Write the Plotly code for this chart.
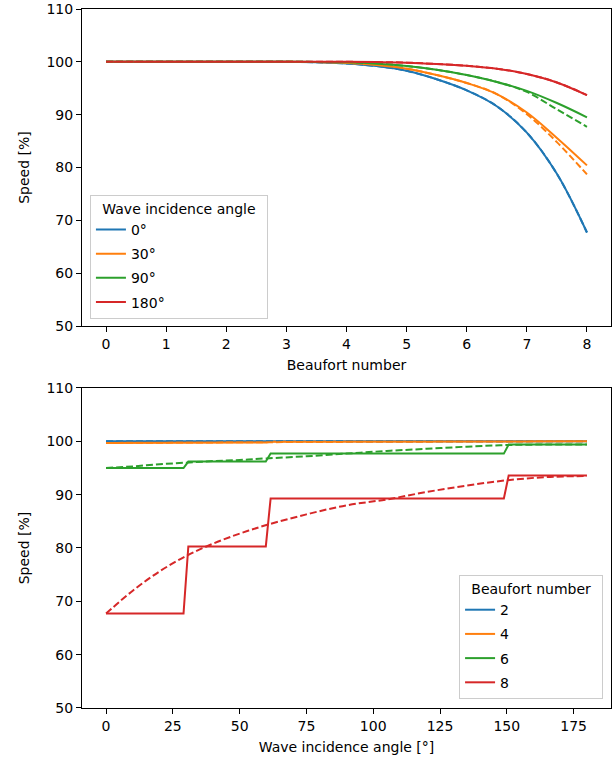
import plotly.graph_objects as go
from plotly.subplots import make_subplots

# ---- Top panel data: speed vs Beaufort number ----
beaufort = [0, 0.5, 1, 1.5, 2, 2.5, 3, 3.5, 4, 4.5, 5, 5.5, 6, 6.5, 7, 7.5, 8]
speed_0 = [100, 100, 100, 100, 100, 100, 100, 99.9, 99.7, 99.2, 98.3, 96.7, 94.6, 91.6, 86.6, 78.8, 67.7]
speed_30 = [100, 100, 100, 100, 100, 100, 100, 99.95, 99.8, 99.4, 98.7, 97.5, 96.0, 93.9, 90.4, 85.6, 80.4]
speed_90 = [100, 100, 100, 100, 100, 100, 100, 99.98, 99.9, 99.65, 99.2, 98.5, 97.5, 96.2, 94.5, 92.2, 89.5]
speed_180 = [100, 100, 100, 100, 100, 100, 100, 100, 100, 99.95, 99.85, 99.6, 99.25, 98.7, 97.7, 96.1, 93.7]
speed_0_d = speed_0
speed_30_d = [100, 100, 100, 100, 100, 100, 100, 99.95, 99.8, 99.4, 98.7, 97.5, 96.0, 93.9, 90.1, 84.8, 78.7]
speed_90_d = [100, 100, 100, 100, 100, 100, 100, 99.98, 99.9, 99.65, 99.2, 98.5, 97.5, 96.2, 94.3, 91.0, 87.7]
speed_180_d = speed_180
angle_labels = ["0°", "30°", "90°", "180°"]

# ---- Bottom panel data: speed vs wave incidence angle ----
angles_step = [0, 29, 30.8, 59.8, 61.6, 148.9, 150.7, 180]
bf2 = [100.0, 100.0, 100.0, 100.0, 100.0, 100.0, 100.0, 100.0]
bf4 = [99.7, 99.7, 99.8, 99.8, 99.9, 99.9, 100.0, 100.0]
bf6 = [95.0, 95.0, 96.2, 96.2, 97.7, 97.7, 99.4, 99.4]
bf8 = [67.7, 67.7, 80.3, 80.3, 89.3, 89.3, 93.6, 93.6]

angles_smooth = [0, 10, 20, 30, 40, 50, 60, 75, 90, 105, 120, 135, 150, 165, 180]
bf2_d = [100.0] * 15
bf4_d = [99.7, 99.72, 99.75, 99.77, 99.8, 99.82, 99.84, 99.87, 99.9, 99.92, 99.94, 99.96, 99.98, 100.0, 100.0]
bf6_d = [95.0, 95.3, 95.7, 96.0, 96.3, 96.5, 96.8, 97.2, 97.7, 98.2, 98.6, 99.0, 99.3, 99.4, 99.4]
bf8_d = [67.7, 72.0, 75.6, 78.5, 80.8, 82.7, 84.3, 86.3, 88.0, 89.1, 90.5, 91.7, 92.7, 93.3, 93.5]
bf_labels = ["2", "4", "6", "8"]

colors = ["#1f77b4", "#ff7f0e", "#2ca02c", "#d62728"]
FONT = "DejaVu Sans"
FS = 14
DASH = "7px,3px"

fig = make_subplots(rows=2, cols=1, vertical_spacing=0.09, shared_xaxes=False)

top_solid = [speed_0, speed_30, speed_90, speed_180]
top_dash = [speed_0_d, speed_30_d, speed_90_d, speed_180_d]
for i in range(4):
    fig.add_trace(go.Scatter(x=beaufort, y=top_solid[i], mode="lines", name=angle_labels[i],
                             line=dict(color=colors[i], width=2, shape="spline"),
                             legend="legend", legendgroup="t" + str(i)), row=1, col=1)
for i in range(4):
    fig.add_trace(go.Scatter(x=beaufort, y=top_dash[i], mode="lines", showlegend=False,
                             line=dict(color=colors[i], width=2, dash=DASH, shape="spline"),
                             legendgroup="t" + str(i)), row=1, col=1)

bot_solid = [bf2, bf4, bf6, bf8]
bot_dash = [bf2_d, bf4_d, bf6_d, bf8_d]
for i in range(4):
    fig.add_trace(go.Scatter(x=angles_step, y=bot_solid[i], mode="lines", name=bf_labels[i],
                             line=dict(color=colors[i], width=2),
                             legend="legend2", legendgroup="b" + str(i)), row=2, col=1)
for i in range(4):
    fig.add_trace(go.Scatter(x=angles_smooth, y=bot_dash[i], mode="lines", showlegend=False,
                             line=dict(color=colors[i], width=2, dash=DASH, shape="spline"),
                             legend="legend2", legendgroup="b" + str(i)), row=2, col=1)

axis_common = dict(showline=True, mirror=True, linecolor="black", linewidth=1,
                   ticks="outside", ticklen=5, tickwidth=1, tickcolor="black",
                   showgrid=False, zeroline=False, automargin=False,
                   tickfont=dict(family=FONT, size=FS, color="black"))

fig.update_xaxes(range=[-0.4, 8.4], tickvals=list(range(0, 9)),
                 title=dict(text="Beaufort number", font=dict(family=FONT, size=FS, color="black"), standoff=9),
                 row=1, col=1, **axis_common)
fig.update_xaxes(range=[-9, 189], tickvals=[0, 25, 50, 75, 100, 125, 150, 175],
                 title=dict(text="Wave incidence angle [°]", font=dict(family=FONT, size=FS, color="black"), standoff=9),
                 row=2, col=1, **axis_common)
for r in (1, 2):
    fig.update_yaxes(range=[50, 110], tickvals=[50, 60, 70, 80, 90, 100, 110],
                     title=dict(text="Speed [%]", font=dict(family=FONT, size=FS, color="black"), standoff=13),
                     row=r, col=1, **axis_common)

fig.update_layout(
    width=616, height=761,
    margin=dict(l=82, r=5, t=9, b=53),
    paper_bgcolor="white", plot_bgcolor="white",
    font=dict(family=FONT, size=FS, color="black"),
    legend=dict(x=0.015, y=0.557, xanchor="left", yanchor="bottom",
                title=dict(text="\u00a0\u00a0Wave incidence angle\u00a0\u00a0", side="top center",
                           font=dict(family=FONT, size=FS)),
                bgcolor="rgba(255,255,255,0.8)", bordercolor="#cccccc", borderwidth=1,
                font=dict(family=FONT, size=FS), tracegroupgap=3, traceorder="grouped"),
    legend2=dict(x=0.985, y=0.013, xanchor="right", yanchor="bottom",
                 title=dict(text="\u00a0\u00a0Beaufort number\u00a0\u00a0", side="top center",
                            font=dict(family=FONT, size=FS)),
                 bgcolor="rgba(255,255,255,0.8)", bordercolor="#cccccc", borderwidth=1,
                 font=dict(family=FONT, size=FS), tracegroupgap=3, traceorder="grouped"),
)
fig.update_yaxes(domain=[0.5465, 1.0], row=1, col=1)
fig.update_yaxes(domain=[0.0, 0.4578], row=2, col=1)

fig.write_html("out.html", config={"displayModeBar": False},
               post_script="document.body.style.margin='0';document.body.style.padding='0';")
